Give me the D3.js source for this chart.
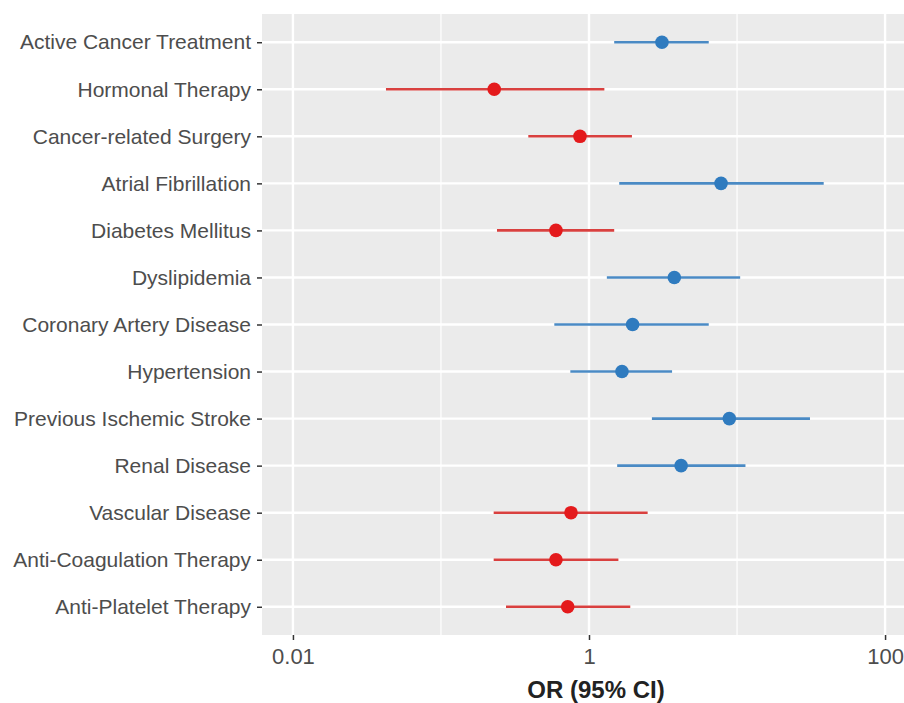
<!DOCTYPE html>
<html>
<head>
<meta charset="utf-8">
<script src="https://cdn.jsdelivr.net/npm/d3@7"></script>
<style>
  body { margin: 0; background: #fff; }
  text { font-family: "Liberation Sans", Arial, sans-serif; }
</style>
</head>
<body>
<div id="chart"></div>
<script>
// rows, top to bottom
var factors = ["Active Cancer Treatment", "Hormonal Therapy", "Cancer-related Surgery",
  "Atrial Fibrillation", "Diabetes Mellitus", "Dyslipidemia", "Coronary Artery Disease",
  "Hypertension", "Previous Ischemic Stroke", "Renal Disease", "Vascular Disease",
  "Anti-Coagulation Therapy", "Anti-Platelet Therapy"];
var orValues = [3.11, 0.229, 0.869, 7.80, 0.598, 3.77, 1.97, 1.67, 8.87, 4.19, 0.756, 0.598, 0.718];
var ciLow    = [1.48, 0.0425, 0.389, 1.60, 0.239, 1.32, 0.583, 0.748, 2.66, 1.55, 0.227, 0.227, 0.275];
var ciHigh   = [6.44, 1.27, 1.95, 38.5, 1.48, 10.5, 6.44, 3.64, 31.1, 11.4, 2.49, 1.58, 1.90];
var xTicks = [0.01, 1, 100];
var xMinor = [0.1, 10];

var svgWidth = 904, svgHeight = 703;
var margin = { top: 14, right: -12, bottom: 68, left: 262 };
var width = svgWidth - margin.left - margin.right;
var height = svgHeight - margin.top - margin.bottom;

var svg = d3.select("#chart").append("svg")
  .attr("width", svgWidth)
  .attr("height", svgHeight);

var chartGroup = svg.append("g")
  .attr("transform", `translate(${margin.left}, ${margin.top})`);

var rows = factors.map(function(f, i) {
  return { name: f, or: orValues[i], lo: ciLow[i], hi: ciHigh[i] };
});

// log x scale, padded like ggplot
var x = d3.scaleLog().domain([0.00618, 161.8]).range([0, width]);
var y = d3.scalePoint().domain(factors).range([0, height]).padding(0.6);

// panel
chartGroup.append("rect")
  .attr("width", width).attr("height", height)
  .attr("fill", "#ebebeb");

chartGroup.selectAll(".minor")
  .data(xMinor).enter().append("line")
  .attr("x1", d => x(d)).attr("x2", d => x(d))
  .attr("y1", 0).attr("y2", height)
  .attr("stroke", "#fff").attr("stroke-width", 1.2);

chartGroup.selectAll(".major")
  .data(xTicks).enter().append("line")
  .attr("x1", d => x(d)).attr("x2", d => x(d))
  .attr("y1", 0).attr("y2", height)
  .attr("stroke", "#fff").attr("stroke-width", 2.4);

chartGroup.selectAll(".hgrid")
  .data(factors).enter().append("line")
  .attr("x1", 0).attr("x2", width)
  .attr("y1", d => y(d)).attr("y2", d => y(d))
  .attr("stroke", "#fff").attr("stroke-width", 2.4);

// axes
var bottomAxis = d3.axisBottom(x).tickValues(xTicks)
  .tickFormat(d3.format("~g")).tickSize(5).tickPadding(8);
var leftAxis = d3.axisLeft(y).tickSize(5).tickPadding(6);

var xAxis = chartGroup.append("g")
  .attr("transform", `translate(0, ${height})`)
  .call(bottomAxis);
var yAxis = chartGroup.append("g").call(leftAxis);

[xAxis, yAxis].forEach(function(ax) {
  ax.select(".domain").remove();
  ax.selectAll(".tick line").attr("stroke", "#333").attr("stroke-width", 1.5);
  ax.selectAll(".tick text").attr("fill", "#4d4d4d").style("font-size", "21px");
});
xAxis.selectAll(".tick text").style("font-size", "22px");

// CI lines
function colour(d) { return d.or < 1 ? "#e41a1c" : "#2f7bbf"; }
function lineColour(d) { return d.or < 1 ? "#d9403f" : "#4a8ac4"; }

chartGroup.selectAll(".ci")
  .data(rows).enter().append("line")
  .attr("x1", d => x(d.lo)).attr("x2", d => x(d.hi))
  .attr("y1", d => y(d.name)).attr("y2", d => y(d.name))
  .attr("stroke", lineColour).attr("stroke-width", 2.6);

chartGroup.selectAll(".pt")
  .data(rows).enter().append("circle")
  .attr("cx", d => x(d.or)).attr("cy", d => y(d.name))
  .attr("r", 6.8)
  .attr("fill", colour);

// axis title
svg.append("text")
  .attr("x", 596).attr("y", 698)
  .attr("text-anchor", "middle")
  .attr("font-weight", "bold")
  .attr("fill", "#222")
  .style("font-size", "24px")
  .text("OR (95% CI)");
</script>
</body>
</html>
